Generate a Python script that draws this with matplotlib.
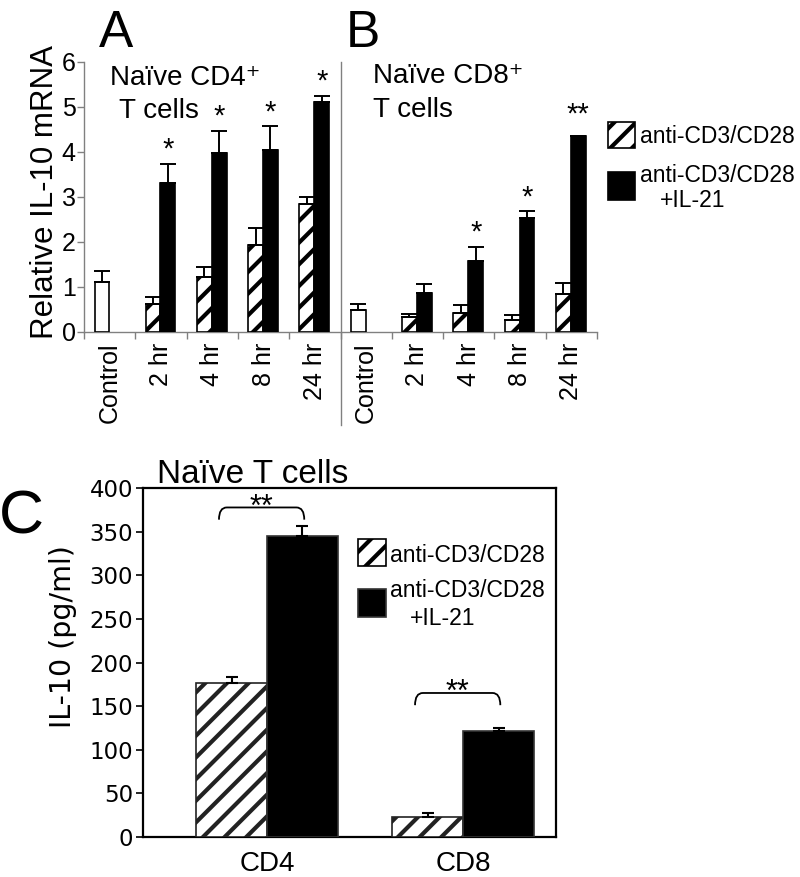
import numpy as np
import matplotlib
matplotlib.use('Agg')
import matplotlib.pyplot as plt
from matplotlib.patches import Rectangle, PathPatch
from matplotlib.path import Path

# ---- data ----
time_labels = ['Control', '2 hr', '4 hr', '8 hr', '24 hr']

# panel A: naive CD4+ T cells (relative IL-10 mRNA)
a_control = 1.11
a_control_err = 0.24
a_hatch = [0.61, 1.22, 1.93, 2.83]
a_hatch_err = [0.15, 0.22, 0.37, 0.16]
a_black = [3.31, 3.96, 4.04, 5.11]
a_black_err = [0.42, 0.50, 0.52, 0.13]
a_stars = ['*', '*', '*', '*']

# panel B: naive CD8+ T cells
b_control = 0.48
b_control_err = 0.13
b_hatch = [0.32, 0.42, 0.27, 0.84]
b_hatch_err = [0.08, 0.18, 0.10, 0.24]
b_black = [0.85, 1.58, 2.52, 4.35]
b_black_err = [0.22, 0.31, 0.16, 0.0]
b_stars = ['', '*', '*', '**']

# panel C: IL-10 protein (pg/ml)
c_groups = ['CD4', 'CD8']
c_hatch = [176.5, 22.6]
c_hatch_err = [6.9, 4.6]
c_black = [344.8, 121.4]
c_black_err = [11.9, 3.4]
c_bracket_y = [378, 165]
c_stars = ['**', '**']

legend_labels = ['anti-CD3/CD28', 'anti-CD3/CD28', '+IL-21']

# ---- figure helpers (pixel coords from top-left) ----
# dpi 130 so that the '//' hatch spacing matches the original stripes;
# all point sizes below are written for 100 dpi and scaled by K
W, H = 800, 877
DPI = 130
K = 100 / DPI

def fx(x):
    return x / W
def fy(y):
    return 1 - y / H

plt.rcParams['font.family'] = ['Liberation Sans', 'DejaVu Sans']
plt.rcParams['hatch.linewidth'] = 3.0 * K

fig = plt.figure(figsize=(W / DPI, H / DPI), dpi=DPI)

# ================= panels A + B =================
ax = fig.add_axes([fx(84), fy(331.7), (597 - 84) / W, 270 / H])
grey = '#808080'
bw = 0.29
ekw = dict(ecolor='black', elinewidth=1.4 * K, capsize=5.5 * K, capthick=1.4 * K)

for off, ctrl, ctrl_err, hatch, hatch_err, black, black_err, stars in [
        (0, a_control, a_control_err, a_hatch, a_hatch_err, a_black, a_black_err, a_stars),
        (5, b_control, b_control_err, b_hatch, b_hatch_err, b_black, b_black_err, b_stars)]:
    ax.bar([off + 0.35], [ctrl], width=bw, color='white', edgecolor='black', lw=1.2 * K,
           yerr=[[0], [ctrl_err]], error_kw=ekw, zorder=3)
    grp = off + np.arange(1, 5) + 0.5
    ax.bar(grp - 0.155, hatch, width=bw, color='white', edgecolor='black', lw=1.2 * K,
           hatch='//', yerr=[np.zeros(4), hatch_err], error_kw=ekw, zorder=3)
    ax.bar(grp + 0.135, black, width=bw, color='black', edgecolor='black', lw=1.2 * K,
           yerr=[np.zeros(4), black_err], error_kw=ekw, zorder=3)
    for x, v, e, s in zip(grp + 0.135, black, black_err, stars):
        if s:
            # a bar without error bar gets a little extra room
            lift = 0 if e > 0 else 5 * K
            ax.annotate(s, (x, v + e), xytext=(0, lift), textcoords='offset points',
                        ha='center', va='bottom', fontsize=21 * K)

ax.set_xlim(0, 10)
ax.set_ylim(0, 6)
for s in ['top', 'right']:
    ax.spines[s].set_visible(False)
for s in ['left', 'bottom']:
    ax.spines[s].set_color(grey)
    ax.spines[s].set_linewidth(1.0 * K)
ax.set_yticks(range(0, 7))
ax.tick_params(axis='y', labelsize=18 * K, length=5 * K, width=K, color=grey, pad=1 * K)
ax.set_xticks(np.arange(0, 11))
ax.set_xticklabels([])
ax.tick_params(axis='x', which='major', length=5 * K, width=K, color=grey)
ax.set_xticks(np.arange(0.5, 10), time_labels * 2, minor=True)
ax.tick_params(axis='x', which='minor', length=0, pad=8 * K, labelsize=18 * K, labelrotation=90)
ax.axvline(5, ymin=-0.345, ymax=1.0, color=grey, lw=1.0 * K, clip_on=False)

fig.text(fx(45), fy(192), 'Relative IL-10 mRNA', rotation=90, ha='center', va='center',
         fontsize=22.5 * K)
fig.text(fx(99), fy(47), 'A', fontsize=37 * K, va='baseline')
fig.text(fx(346), fy(47), 'B', fontsize=37 * K, va='baseline')
fig.text(fx(110), fy(85), 'Naïve CD4⁺', fontsize=20 * K, va='baseline')
fig.text(fx(119), fy(118), 'T cells', fontsize=20 * K, va='baseline')
fig.text(fx(373), fy(83), 'Naïve CD8⁺', fontsize=20 * K, va='baseline')
fig.text(fx(373), fy(117), 'T cells', fontsize=20 * K, va='baseline')

# legend A/B
fig.add_artist(Rectangle((fx(608), fy(148)), 27 / W, 26 / H, transform=fig.transFigure,
                         facecolor='white', edgecolor='black', hatch='//', lw=1.2 * K))
fig.add_artist(Rectangle((fx(608), fy(200)), 27 / W, 28 / H, transform=fig.transFigure,
                         facecolor='black', edgecolor='black', lw=1.2 * K))
fig.text(fx(640), fy(143), legend_labels[0], fontsize=16.5 * K, va='baseline')
fig.text(fx(640), fy(182), legend_labels[1], fontsize=16.5 * K, va='baseline')
fig.text(fx(660), fy(207), legend_labels[2], fontsize=16.5 * K, va='baseline')

# ================= panel C =================
axc = fig.add_axes([fx(142.7), fy(836.7), (556 - 142.7) / W, (836.7 - 488.3) / H])
cw = 0.362
xc = np.arange(len(c_groups))
ekc = dict(ecolor='black', elinewidth=1.5 * K, capsize=4.5 * K, capthick=1.5 * K)
axc.bar(xc - cw / 2, c_hatch, width=cw, color='white', edgecolor='#222222', lw=1.2 * K,
        hatch='//', yerr=[np.zeros(2), c_hatch_err], error_kw=ekc, zorder=3)
axc.bar(xc + cw / 2, c_black, width=cw, color='black', edgecolor='#333333', lw=1.2 * K,
        yerr=[np.zeros(2), c_black_err], error_kw=ekc, zorder=3)

def bracket(a, x0, x1, ytop, drop, r):
    verts = [(x0, ytop - drop), (x0, ytop), (x0 + r, ytop), (x1 - r, ytop), (x1, ytop), (x1, ytop - drop)]
    codes = [Path.MOVETO, Path.CURVE3, Path.CURVE3, Path.LINETO, Path.CURVE3, Path.CURVE3]
    a.add_patch(PathPatch(Path(verts, codes), facecolor='none', edgecolor='black', lw=1.3 * K))

for x, yb, s in zip(xc, c_bracket_y, c_stars):
    bracket(axc, x - 0.245, x + 0.19, yb, 14, 0.04)
    axc.annotate(s, (x - 0.03, yb), xytext=(0, -6 * K), textcoords='offset points',
                 ha='center', va='baseline', fontsize=22 * K)

axc.set_xlim(-0.634, 1.474)
axc.set_ylim(0, 400)
for s in axc.spines.values():
    s.set_linewidth(1.6 * K)
axc.set_yticks(range(0, 401, 50))
axc.tick_params(axis='y', length=5 * K, width=1.2 * K, pad=2 * K)
for t in axc.get_yticklabels():
    t.set_family('DejaVu Sans')
    t.set_fontsize(16.5 * K)
axc.set_xticks(xc, c_groups)
axc.tick_params(axis='x', length=0, pad=10 * K, labelsize=20 * K)

fig.text(fx(63), fy(637), 'IL-10 (pg/ml)', rotation=90, ha='center', va='center',
         fontsize=20.5 * K, family='DejaVu Sans')
fig.text(fx(157), fy(483), 'Naïve T cells', fontsize=24 * K, va='baseline')
fig.text(fx(-1), fy(533), 'C', fontsize=45 * K, va='baseline')

# legend C
fig.add_artist(Rectangle((fx(358), fy(566)), 28 / W, 27 / H, transform=fig.transFigure,
                         facecolor='white', edgecolor='black', hatch='//', lw=1.2 * K))
fig.add_artist(Rectangle((fx(358), fy(617)), 28 / W, 28 / H, transform=fig.transFigure,
                         facecolor='black', edgecolor='#333333', lw=1.2 * K))
fig.text(fx(390), fy(562), legend_labels[0], fontsize=16.5 * K, va='baseline')
fig.text(fx(390), fy(597), legend_labels[1], fontsize=16.5 * K, va='baseline')
fig.text(fx(410), fy(625), legend_labels[2], fontsize=16.5 * K, va='baseline')

fig.savefig('out.png', dpi=DPI)
